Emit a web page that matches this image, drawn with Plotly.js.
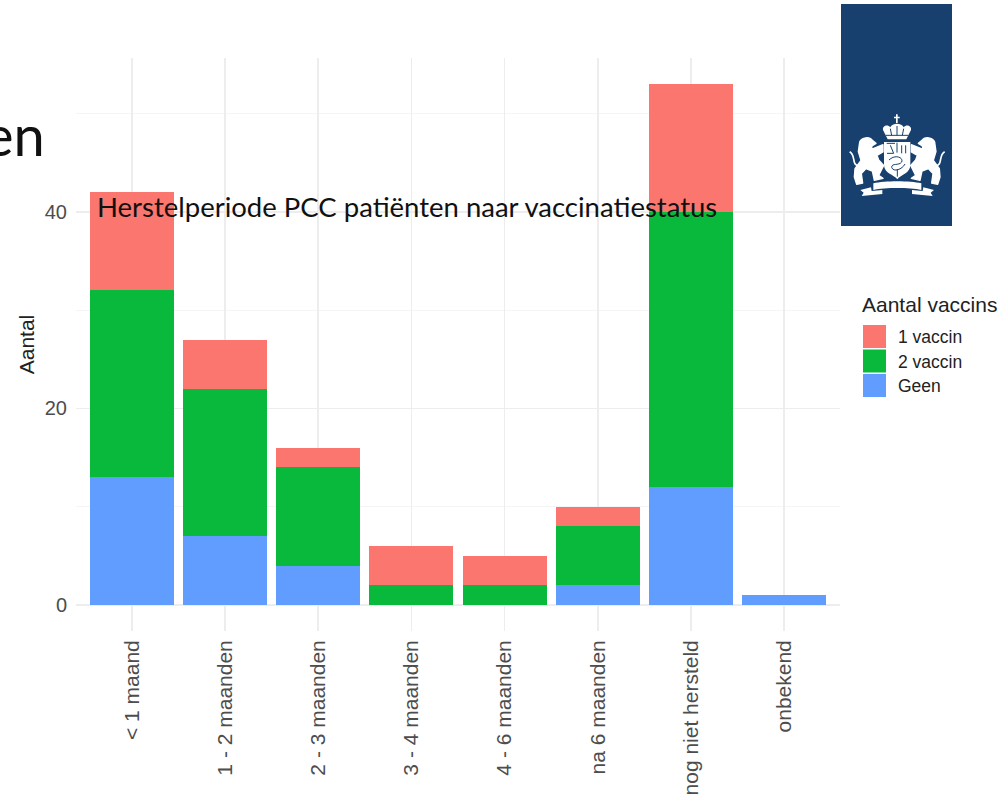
<!DOCTYPE html>
<html>
<head>
<meta charset="utf-8">
<script src="https://cdn.plot.ly/plotly-3.0.1.min.js"></script>
<style>html,body{margin:0;padding:0;background:#fff}#chart{width:1002px;height:803px}</style>
</head>
<body>
<div id="chart"></div>
<script>
// Recovery period by vaccination status, stacked counts per period
const periods = ['< 1 maand','1 - 2 maanden','2 - 3 maanden','3 - 4 maanden','4 - 6 maanden','na 6 maanden','nog niet hersteld','onbekend'];
const geen    = [13, 7, 4, 0, 0, 2, 12, 1];
const vaccin2 = [19, 15, 10, 2, 2, 6, 28, 0];
const vaccin1 = [10, 5, 2, 4, 3, 2, 13, 0];
const legendNames  = ['1 vaccin', '2 vaccin', 'Geen'];
const legendColors = ['#FA766E', '#08B93C', '#619CFF'];

const W = 1002, H = 803;
const M = {l: 76, r: 162, t: 58, b: 172};
const px = x => (x - M.l) / (W - M.l - M.r);
const py = y => 1 - (y - M.t) / (H - M.t - M.b);

// Blue banner with crest, drawn as a small inline SVG
const lionPath = `<path stroke="#fff" stroke-width="4" stroke-linejoin="round" d="M44,96 C50,81 74,79 82,91 L93,100 L81,108 L79,118 L114,104 L114,126 L96,136 L101,150 L116,166 L110,178 L101,196 L114,205 L88,211 L82,183 L63,176 L49,191 L53,219 L35,223 L28,201 L30,176 L48,151 L40,125 Z"/>
<path d="M42,168 C18,166 34,136 14,125" fill="none" stroke="#fff" stroke-width="5"/>
<path d="M78,232 L46,240 L56,248 L50,258 L112,252 L112,240 L80,243 Z"/>`;
const banner = `<svg xmlns="http://www.w3.org/2000/svg" width="333" height="666" viewBox="-12 -318 333 666">
<rect x="-12" y="-318" width="333" height="666" fill="#17406f"/>
<g fill="#fff" stroke="none">
<path d="M153,13h5v7h6v5h-6v14h-5v-14h-6v-5h6z"/>
<path d="M128,88 L114,60 C112,47 128,42 136,52 C141,38 171,38 176,52 C184,42 200,47 198,60 L184,88 Z"/>
<path d="M117,96 H196 V165 C196,190 168,193 157,208 C146,193 117,190 117,165 Z"/>
${lionPath}
<path d="M85,220 C120,212 194,212 229,220 L229,240 C194,232 120,232 85,240 Z"/>
<g transform="translate(313,0) scale(-1,1)">${lionPath}</g>
</g>
<g fill="none" stroke="#17406f" stroke-width="3">
<path d="M122,76 H190 M136,56 L140,76 M156,48 V76 M176,56 L172,76"/>
<path d="M156,98 V128 M125,100 L150,100 M136,106 L146,130 L126,130 M170,106 V130 M182,106 V130"/>
<path d="M132,150 C150,132 176,142 170,156 C162,168 140,158 140,172 C145,188 172,178 180,162"/>
<path d="M157,178 V200"/>
</g>
</svg>`;

const trace = (name, values, color) => ({
  type: 'bar', name, x: periods, y: values, width: 0.9,
  marker: {color, line: {width: 0}}, showlegend: false, hoverinfo: 'x+y+name'
});
const data = [
  trace('Geen', geen, legendColors[2]),
  trace('2 vaccin', vaccin2, legendColors[1]),
  trace('1 vaccin', vaccin1, legendColors[0])
];

const shapes = [];
const annotations = [
  {text: 'Herstelperiode PCC patiënten naar vaccinatiestatus', x: px(94.5), y: py(207),
   font: {family: 'Lato', size: 27.5, color: '#111'}},
  {text: 'en', x: px(-18), y: py(134), font: {family: 'Lato', size: 56, color: '#111'}},
  {text: 'Aantal vaccins', x: px(860), y: py(304), font: {family: 'Liberation Sans', size: 21, color: '#222'}}
].map(a => ({...a, xref: 'paper', yref: 'paper', xanchor: 'left', yanchor: 'middle', showarrow: false}));

// Legend entries share the colours of the bars
legendNames.forEach((name, i) => {
  const top = 325 + i * 24.5;
  shapes.push({type: 'rect', xref: 'paper', yref: 'paper', layer: 'above',
    x0: px(863), x1: px(886), y0: py(top + 23), y1: py(top),
    fillcolor: legendColors[i], line: {width: 0}});
  annotations.push({text: name, xref: 'paper', yref: 'paper', x: px(896), y: py(top + 12),
    xanchor: 'left', yanchor: 'middle', showarrow: false,
    font: {family: 'Liberation Sans', size: 17.5, color: '#222'}});
});

const layout = {
  width: W, height: H, margin: M, barmode: 'stack',
  paper_bgcolor: '#fff', plot_bgcolor: '#fff',
  font: {family: 'Liberation Sans', color: '#4d4d4d', size: 20},
  xaxis: {
    type: 'category', categoryorder: 'array', categoryarray: periods,
    range: [-0.6, 7.6], tickangle: -90, ticks: '', showline: false, zeroline: false,
    showgrid: true, gridcolor: '#ededed', gridwidth: 1.6, ticklabelstandoff: 4,
    tickfont: {size: 21, color: '#4d4d4d'}, automargin: false
  },
  yaxis: {
    range: [-2.65, 55.65], tickvals: [0, 20, 40], ticks: '', showline: false, zeroline: false,
    showgrid: true, gridcolor: '#ededed', gridwidth: 1.6, ticklabelstandoff: 8,
    minor: {tickvals: [10, 30, 50], showgrid: true, gridcolor: '#f5f5f5', gridwidth: 1.2},
    tickfont: {size: 20, color: '#4d4d4d'}, automargin: false,
    title: {text: 'Aantal', font: {size: 21, color: '#222'}, standoff: 4}
  },
  shapes, annotations,
  images: [{
    source: 'data:image/svg+xml;charset=utf-8,' + encodeURIComponent(banner),
    xref: 'paper', yref: 'paper', x: px(841), y: py(4),
    sizex: 111 / (W - M.l - M.r), sizey: 222 / (H - M.t - M.b),
    sizing: 'stretch', xanchor: 'left', yanchor: 'top', layer: 'above'
  }]
};

Plotly.newPlot('chart', data, layout, {displayModeBar: false, staticPlot: true});
</script>
</body>
</html>
